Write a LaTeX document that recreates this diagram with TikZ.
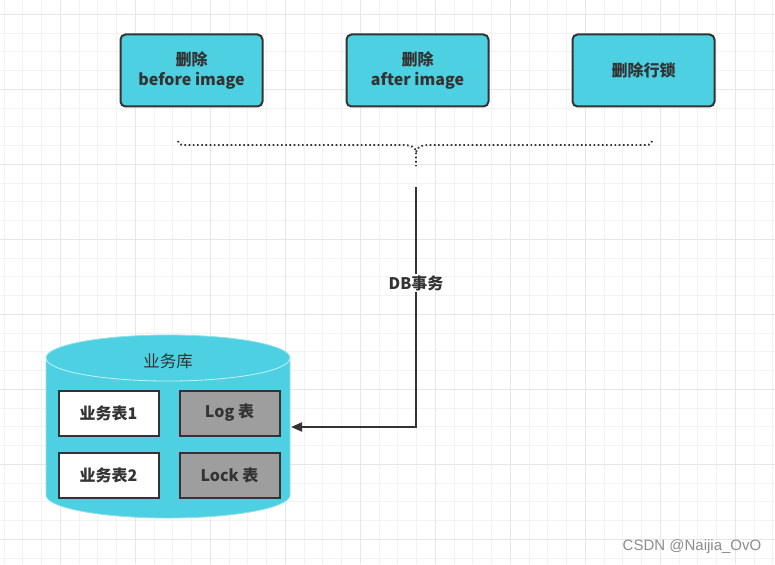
\documentclass[tikz,border=0pt]{standalone}
\usepackage{fontspec}
\setmainfont{Noto Sans CJK SC}
\newfontfamily\wmfont{Liberation Sans}
\usetikzlibrary{arrows.meta}
\definecolor{cyanfill}{HTML}{4DD0E1}
\definecolor{darkline}{HTML}{333333}
\definecolor{grayfill}{HTML}{9E9E9E}
\definecolor{gridminor}{HTML}{F2F2F2}
\definecolor{gridmajor}{HTML}{E6E6E6}
\definecolor{cylline}{HTML}{8FE0EA}
\tikzset{
  topbox/.style={draw=darkline, line width=2pt, fill=cyanfill, rounded corners=5pt,
    minimum width=142pt, minimum height=72pt, align=center, text=darkline,
    font=\fontsize{16}{20}\selectfont\bfseries, inner sep=0pt},
  tbl/.style={draw=darkline, line width=2pt, minimum width=100pt, minimum height=45pt,
    text=darkline, font=\fontsize{16}{19}\selectfont\bfseries, inner sep=0pt},
  conn/.style={draw=darkline, line width=2pt},
  bracepath/.style={draw=darkline, line width=1.8pt, dash pattern=on 1.6pt off 2.6pt},
}
\begin{document}
\begin{tikzpicture}[x=1pt,y=-1pt]
\useasboundingbox (0,0) rectangle (775,564);
\fill[white] (0,0) rectangle (775,564);
% grid
\foreach \i in {0,...,41} {\draw[gridminor, line width=1pt] ({4.05+18.75*\i},0) -- ({4.05+18.75*\i},564);}
\foreach \i in {0,...,30} {\draw[gridminor, line width=1pt] (0,{14.3+18.75*(\i-1)}) -- (775,{14.3+18.75*(\i-1)});}
\foreach \i in {0,...,10} {\draw[gridmajor, line width=1pt] ({60.3+75*\i},0) -- ({60.3+75*\i},564);}
\foreach \i in {0,...,7} {\draw[gridmajor, line width=1pt] (0,{14.3+75*\i}) -- (775,{14.3+75*\i});}

% top boxes
\node[topbox] (b1) at (191.5,70.5) {删除\\before image};
\node[topbox] (b2) at (417.5,70.5) {删除\\after image};
\node[topbox] (b3) at (643.5,70.5) {删除行锁};

% brace
\coordinate (brL) at (178,141);
\coordinate (brR) at (652,141);
\coordinate (brM) at (416,166);
\draw[bracepath] (brL) .. controls (179,145) and (181,145) .. (188,145) -- (402,145)
   .. controls (411,145) and (416,147) .. (416,153) -- (brM);
\draw[bracepath] (brR) .. controls (651,145) and (649,145) .. (642,145) -- (430,145)
   .. controls (421,145) and (416,147) .. (416,153);

% cylinder
\path[fill=cyanfill, draw=cylline, line width=0.8pt]
  (46,358) -- (46,495) arc[start angle=180,end angle=0,x radius=122,y radius=23]
  -- (290,358) arc[start angle=0,end angle=-180,x radius=122,y radius=23] -- cycle;
\draw[white!70!cyanfill, line width=0.8pt] (46,358) arc[start angle=180,end angle=0,x radius=122,y radius=23];
\node[text=darkline, font=\fontsize{16.5}{19}\selectfont] (db) at (168,361) {业务库};
\coordinate (dbR) at (291,427);

\node[tbl, fill=white] (t1) at (108.5,413) {业务表1};
\node[tbl, fill=grayfill] (t2) at (229.5,413) {Log 表};
\node[tbl, fill=white] (t3) at (108.5,475) {业务表2};
\node[tbl, fill=grayfill] (t4) at (229.5,475) {Lock 表};

% connector
\coordinate (cs) at (416,187);
\coordinate (cb) at (416,427);
\draw[conn, -{Triangle[length=11pt,width=9pt]}] (cs) -- (cb) -- (dbR);
\node[fill=white, text=darkline, font=\fontsize{16}{19}\selectfont\bfseries, inner sep=1pt] (lbl) at (416,283) {DB事务};

% watermark
\node[text=black!45, font=\wmfont\fontsize{15}{17}\selectfont] (wm) at (692,547) {CSDN @Naijia\_OvO};
\end{tikzpicture}
\end{document}
